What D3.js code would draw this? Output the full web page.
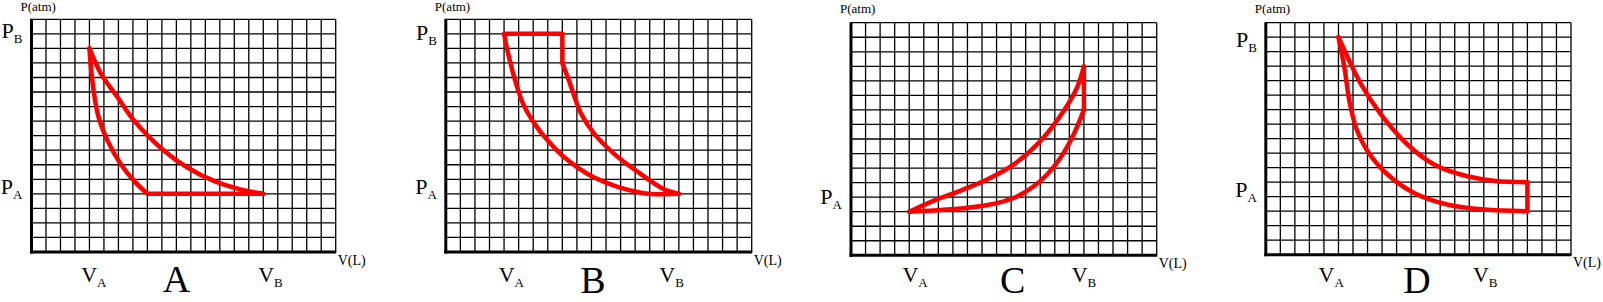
<!DOCTYPE html>
<html>
<head>
<meta charset="utf-8">
<script src="https://cdn.jsdelivr.net/npm/d3@7"></script>
<style>
  body { margin: 0; background: #fff; }
  svg { display: block; }
  text { font-family: "Liberation Serif", "Times New Roman", serif; fill: #000; }
</style>
</head>
<body>
<div id="chart"></div>
<script>
// panel names and grid size (in grid cells)
const panelNames = ["A", "B", "C", "D"];
const gridCols = 21, gridRows = 16;

// cycle strokes, [V, P] in grid units
const cycleA = [
    [[4, 14], [4.15, 12.2], [4.57, 9.5], [5.25, 7.66], [6.17, 6.04], [7.08, 4.89], [8, 4]],
    [[8, 4], [16, 4]],
    [[16, 4], [14.42, 4.31], [12.59, 4.89], [10.76, 5.81], [9.15, 6.96], [7.08, 9.04], [5.94, 10.65], [4.79, 12.27], [4, 14]]
];
const cycleB = [
    [[4, 15], [8, 15]],
    [[8, 15], [8, 13]],
    [[8, 13], [8.45, 11.8], [9.29, 9.5], [10.2, 8.12], [11.58, 6.73], [13.4, 5.35], [15, 4.31], [16, 4]],
    [[16, 4], [13.4, 4.08], [10.2, 5.12], [8.15, 6.5], [7.0, 7.66], [6.1, 8.81], [5.3, 10.2], [4.7, 12.0], [4.2, 14.0], [4, 15]]
];
const cycleC = [
    [[4, 3], [5.74, 3.78], [7.57, 4.47], [9.39, 5.23], [11.21, 6.27], [13.03, 7.88], [14.63, 9.96], [15.54, 11.57], [16, 13]],
    [[16, 13], [16, 10]],
    [[16, 10], [15.31, 8.35], [14.4, 6.73], [13.49, 5.58], [12.58, 4.77], [11.21, 3.96], [9.39, 3.46], [6.88, 3.16], [4, 3]]
];
const cycleD = [
    [[5, 15], [5.64, 13.6], [6.55, 11.76], [7.92, 9.68], [9.75, 7.6], [11.58, 6.22], [13.86, 5.41], [16.1, 5.05]],
    [[16.1, 5.05], [18, 5]],
    [[18, 5], [18, 3]],
    [[18, 3], [15, 3.11], [12.49, 3.46], [10.2, 4.26], [8.38, 5.53], [7.01, 7.14], [6.21, 8.76], [5.75, 10.6], [5.41, 12.9], [5, 15]]
];
const cycles = [cycleA, cycleB, cycleC, cycleD];

// tick label positions, in grid units (null = no label)
const vaTick = [4.3, 4.5, 4.4, 4.5];
const vbTick = [16.5, 15.5, 16, 15.1];
const paTick = [4, 4, 3.5, 4];
const pbTick = [14.7, 14.6, null, 14.3];

// layout of the four panels (pixels)
const panelBox = [
    { left: 31.5, right: 335.7, top: 19.3, bottom: 252 },
    { left: 445.8, right: 751.7, top: 19.3, bottom: 252 },
    { left: 851, right: 1156.7, top: 22.7, bottom: 255.3 },
    { left: 1265.8, right: 1571, top: 22.7, bottom: 254.7 }
];
const letterX = [10, 10.1, 11.1, 10.4];
const letterBase = [292, 293, 293, 293];
const pAtmBase = [10.5, 10.5, 13, 13];
const vLBase = [265, 265, 268, 267];

const svg = d3.select("#chart").append("svg").attr("width", 1603).attr("height", 302);

panelNames.forEach((name, i) => {
    const b = panelBox[i];
    const x = d3.scaleLinear().domain([0, gridCols]).range([b.left, b.right]);
    const y = d3.scaleLinear().domain([0, gridRows]).range([b.bottom, b.top]);
    const g = svg.append("g");

    // grid
    g.selectAll("line.gx").data(d3.range(1, gridCols + 1)).join("line")
        .attr("x1", d => x(d)).attr("x2", d => x(d))
        .attr("y1", y(0)).attr("y2", y(gridRows))
        .attr("stroke", "#000").attr("stroke-width", 1.3);
    g.selectAll("line.gy").data(d3.range(1, gridRows + 1)).join("line")
        .attr("x1", x(0)).attr("x2", x(gridCols))
        .attr("y1", d => y(d)).attr("y2", d => y(d))
        .attr("stroke", "#000").attr("stroke-width", 1.3);

    // thick axes
    g.append("line")
        .attr("x1", x(0)).attr("x2", x(0))
        .attr("y1", y(gridRows) - 0.5).attr("y2", y(0) + 1.5)
        .attr("stroke", "#000").attr("stroke-width", 3);
    g.append("line")
        .attr("x1", x(0) - 1.5).attr("x2", x(gridCols) + 0.5)
        .attr("y1", y(0)).attr("y2", y(0))
        .attr("stroke", "#000").attr("stroke-width", 3);

    // cycle
    const line = d3.line()
        .x(d => x(d[0])).y(d => y(d[1]))
        .curve(d3.curveCatmullRom.alpha(0.5));
    g.selectAll("path.cyc").data(cycles[i]).join("path")
        .attr("d", line)
        .attr("fill", "none")
        .attr("stroke", "#ff0000")
        .attr("stroke-width", 4.5)
        .attr("stroke-linecap", "round")
        .attr("stroke-linejoin", "round");

    // axis titles
    g.append("text")
        .attr("x", x(0) - 11).attr("y", pAtmBase[i])
        .attr("font-size", 13).text("P(atm)");
    g.append("text")
        .attr("x", x(gridCols) + 2).attr("y", vLBase[i])
        .attr("font-size", 14).text("V(L)");

    // V ticks
    [["A", vaTick[i]], ["B", vbTick[i]]].forEach(([s, v]) => {
        const t = g.append("text")
            .attr("x", x(v)).attr("y", 282)
            .attr("text-anchor", "middle")
            .attr("font-size", 22).text("V");
        t.append("tspan").attr("dy", 5).attr("font-size", 13).text(s);
    });

    // P ticks
    [["A", paTick[i]], ["B", pbTick[i]]].forEach(([s, v]) => {
        if (v == null) return;
        const t = g.append("text")
            .attr("x", x(0) - 9).attr("y", y(v))
            .attr("text-anchor", "end")
            .attr("font-size", 22).text("P");
        t.append("tspan").attr("dy", 5).attr("font-size", 13).text(s);
    });

    // panel letter
    g.append("text")
        .attr("x", x(letterX[i])).attr("y", letterBase[i])
        .attr("text-anchor", "middle")
        .attr("font-size", 38).text(name);
});
</script>
</body>
</html>
